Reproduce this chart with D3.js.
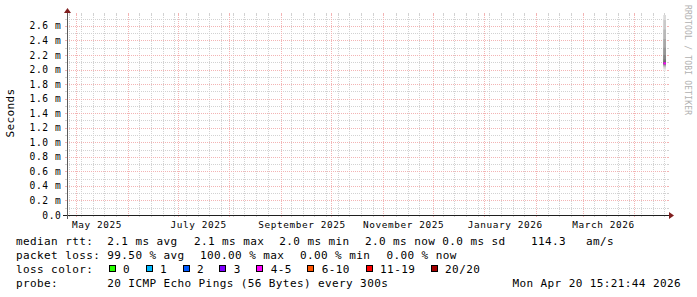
<!DOCTYPE html>
<html>
<head>
<meta charset="utf-8">
<script src="https://cdn.jsdelivr.net/npm/d3@7"></script>
<style>
  html, body { margin: 0; padding: 0; background: #ffffff; }
  svg { display: block; }
  text { font-family: "DejaVu Sans Mono", monospace; fill: #000; white-space: pre; }
</style>
</head>
<body>
<script>
// ---------------- data ----------------
const timeStart = "2025-04-25T15:21:44Z";   // now - 360 days
const timeEnd   = "2026-04-20T15:21:44Z";   // graph end (now)
const yMax = 2.75;                            // ms
const yTickValues = [0, 0.2, 0.4, 0.6, 0.8, 1.0, 1.2, 1.4, 1.6, 1.8, 2.0, 2.2, 2.4, 2.6];
const yTickLabels = ["0.0", "0.2 m", "0.4 m", "0.6 m", "0.8 m", "1.0 m", "1.2 m", "1.4 m",
                     "1.6 m", "1.8 m", "2.0 m", "2.2 m", "2.4 m", "2.6 m"];
const yMinorStep = 0.1;
const monthLabelDates = ["2025-05-01", "2025-07-01", "2025-09-01", "2025-11-01", "2026-01-01", "2026-03-01"];
const monthLabels = ["May 2025", "July 2025", "September 2025", "November 2025", "January 2026", "March 2026"];
// last (only) sample: 20 sorted ping times in ms
const sampleStart = "2026-04-18T12:00:00Z";
const sampleEnd   = "2026-04-20T00:00:00Z";
const pings = [1.98, 2.01, 2.03, 2.04, 2.05, 2.06, 2.07, 2.07, 2.08, 2.08,
               2.09, 2.11, 2.14, 2.20, 2.30, 2.42, 2.55, 2.68, 2.80, 2.95];
const medianColor = "#ff00ff";
// legend
const rttLabels = ["2.1 ms avg", "2.1 ms max", "2.0 ms min", "2.0 ms now", "0.0 ms sd", "114.3", "am/s"];
const lossLabelsText = ["99.50 % avg", "100.00 % max", "0.00 % min", "0.00 % now"];
const lossColorLabels = ["0", "1", "2", "3", "4-5", "6-10", "11-19", "20/20"];
const lossColors = ["#26ff00", "#00b8ff", "#0059ff", "#7e00ff", "#ff00ff", "#ff5500", "#ff0000", "#a10000"];
const probeText = "20 ICMP Echo Pings (56 Bytes) every 300s";
const dateText = "Mon Apr 20 15:21:44 2026";

// ---------------- layout ----------------
const W = 697, H = 297;
const X0 = 67, X1 = 667, Y0 = 215, Y1 = 15;
const gridGray = "#d2d2d2", gridPink = "#f3b4b4", arrowCol = "#801f1f";

const svg = d3.select("body").append("svg").attr("width", W).attr("height", H);
svg.append("rect").attr("width", W).attr("height", H).attr("fill", "#fff");

const x = d3.scaleUtc().domain([new Date(timeStart), new Date(timeEnd)]).range([X0, X1]);
const y = d3.scaleLinear().domain([0, yMax]).range([Y0, Y1]);

const grid = svg.append("g").attr("shape-rendering", "crispEdges");

// minor horizontal grid
const minorY = d3.range(yMinorStep, yMax, yMinorStep)
  .filter(v => !yTickValues.some(t => Math.abs(t - v) < 1e-6));
minorY.forEach(v => {
  const yy = Math.round(y(v)) + 0.5;
  grid.append("line").attr("x1", X0).attr("x2", X1).attr("y1", yy).attr("y2", yy)
    .attr("stroke", gridGray).attr("stroke-dasharray", "1,1");
  grid.append("line").attr("x1", X0 - 2).attr("x2", X0).attr("y1", yy).attr("y2", yy).attr("stroke", gridGray);
  grid.append("line").attr("x1", X1).attr("x2", X1 + 2).attr("y1", yy).attr("y2", yy).attr("stroke", gridGray);
});
// minor vertical grid (weeks)
const months = d3.utcMonth.range(x.domain()[0], x.domain()[1]);
d3.utcSunday.range(x.domain()[0], x.domain()[1]).forEach(d => {
  const xx = Math.round(x(d)) + 0.5;
  if (months.some(m => Math.abs(x(m) - x(d)) < 3)) return;
  grid.append("line").attr("x1", xx).attr("x2", xx).attr("y1", Y1).attr("y2", Y0)
    .attr("stroke", gridGray).attr("stroke-dasharray", "1,1");
  grid.append("line").attr("x1", xx).attr("x2", xx).attr("y1", Y0).attr("y2", Y0 + 2).attr("stroke", gridGray);
  grid.append("line").attr("x1", xx).attr("x2", xx).attr("y1", Y1 - 2).attr("y2", Y1).attr("stroke", gridGray);
});
// major horizontal grid
yTickValues.filter(v => v > 0).forEach(v => {
  const yy = Math.round(y(v)) + 0.5;
  grid.append("line").attr("x1", X0).attr("x2", X1).attr("y1", yy).attr("y2", yy)
    .attr("stroke", gridPink).attr("stroke-dasharray", "1,1");
  grid.append("line").attr("x1", X0 - 2).attr("x2", X0).attr("y1", yy).attr("y2", yy).attr("stroke", gridPink);
  grid.append("line").attr("x1", X1).attr("x2", X1 + 2).attr("y1", yy).attr("y2", yy).attr("stroke", gridPink);
});
// major vertical grid (months)
months.forEach(d => {
  const xx = Math.round(x(d)) + 0.5;
  grid.append("line").attr("x1", xx).attr("x2", xx).attr("y1", Y1).attr("y2", Y0)
    .attr("stroke", gridPink).attr("stroke-dasharray", "1,1");
  grid.append("line").attr("x1", xx).attr("x2", xx).attr("y1", Y0).attr("y2", Y0 + 2).attr("stroke", gridPink);
  grid.append("line").attr("x1", xx).attr("x2", xx).attr("y1", Y1 - 2).attr("y2", Y1).attr("stroke", gridPink);
});

// ---------------- smoke + median ----------------
const clipId = "plotclip";
svg.append("clipPath").attr("id", clipId).append("rect")
  .attr("x", X0).attr("y", Y1).attr("width", X1 - X0).attr("height", Y0 - Y1);
const plot = svg.append("g").attr("clip-path", `url(#${clipId})`);
const n = pings.length, half = n / 2;
const xs0 = x(new Date(sampleStart)), xs1 = x(new Date(sampleEnd));
for (let i = 0; i < half; i++) {
  const c = Math.round(170 / half * (half - i - 1)) + 70 + 12;
  const col = d3.rgb(c, c, c);
  plot.append("rect")
    .attr("x", xs0).attr("width", xs1 - xs0)
    .attr("y", y(pings[n - 1 - i])).attr("height", y(pings[i]) - y(pings[n - 1 - i]))
    .attr("fill", col);
}
const median = d3.median(pings);
plot.append("line").attr("x1", xs0).attr("x2", xs1).attr("y1", y(median)).attr("y2", y(median))
  .attr("stroke", medianColor).attr("stroke-width", 2);

// ---------------- axes ----------------
svg.append("line").attr("x1", X0 - 4).attr("x2", X1 + 4).attr("y1", Y0 + 0.5).attr("y2", Y0 + 0.5)
  .attr("stroke", "#1f1f1f").attr("shape-rendering", "crispEdges");
svg.append("line").attr("x1", X0 + 0.5).attr("x2", X0 + 0.5).attr("y1", Y0 + 4).attr("y2", Y1 - 4)
  .attr("stroke", "#5a5a5a").attr("shape-rendering", "crispEdges");
svg.append("path").attr("fill", arrowCol)
  .attr("d", `M${X1 + 2},${Y0 - 3} L${X1 + 2},${Y0 + 4} L${X1 + 7},${Y0 + 0.5} Z`);
svg.append("path").attr("fill", arrowCol)
  .attr("d", `M${X0 - 3},${Y1 - 2} L${X0 + 4},${Y1 - 2} L${X0 + 0.5},${Y1 - 7} Z`);

// y tick labels
svg.append("g").selectAll("text").data(yTickValues).join("text")
  .attr("x", 61.4).attr("y", d => y(d) + 3.5)
  .attr("text-anchor", "end")
  .style("font-size", "9.6px").style("letter-spacing", "0.6px")
  .text((d, i) => yTickLabels[i]);

// x labels: centered at month start + 15 days (rrdtool precision/2)
svg.append("g").selectAll("text").data(monthLabelDates).join("text")
  .attr("x", d => x(d3.utcDay.offset(new Date(d + "T00:00:00Z"), 15)) - 4)
  .attr("y", 228)
  .attr("text-anchor", "middle")
  .style("font-size", "9.4px").style("letter-spacing", "0.6px")
  .text((d, i) => monthLabels[i]);

// y title
svg.append("text").attr("transform", "translate(14,113) rotate(-90)")
  .attr("text-anchor", "middle")
  .style("font-size", "11px").style("letter-spacing", "0.4px")
  .text("Seconds");

// watermark
svg.append("text").attr("transform", "translate(685,5) rotate(90)")
  .style("font-size", "8px").style("letter-spacing", "0.2px").style("fill", "#b0b0b0")
  .text("RRDTOOL / TOBI OETIKER");

// ---------------- legend ----------------
const legend = svg.append("g").style("font-size", "11px").style("letter-spacing", "0.4px");
const rows = [245, 259, 273, 287];
legend.append("text").attr("x", 16).attr("y", rows[0]).text("median rtt:");
const rttX = [107.3, 194, 279.3, 365, 442.3, 531, 586];
legend.selectAll(".rtt").data(rttLabels).join("text").attr("class", "rtt")
  .attr("x", (d, i) => rttX[i]).attr("y", rows[0]).text(d => d);

legend.append("text").attr("x", 16).attr("y", rows[1]).text("packet loss:");
const lossX = [107.3, 200, 300, 386.5];
legend.selectAll(".pl").data(lossLabelsText).join("text").attr("class", "pl")
  .attr("x", (d, i) => lossX[i]).attr("y", rows[1]).text(d => d);

legend.append("text").attr("x", 16).attr("y", rows[2]).text("loss color:");
const boxX = [108.7, 145.7, 182.7, 219.3, 256.3, 307.3, 365.7, 430.7];
legend.selectAll(".lb").data(lossColors).join("rect").attr("class", "lb")
  .attr("x", (d, i) => Math.round(boxX[i]) + 0.5).attr("y", rows[2] - 7.5)
  .attr("width", 6).attr("height", 6)
  .attr("fill", d => d).attr("stroke", "#000").attr("stroke-width", 1);
legend.selectAll(".lt").data(lossColorLabels).join("text").attr("class", "lt")
  .attr("x", (d, i) => boxX[i] + 14.4).attr("y", rows[2]).text(d => d);

legend.append("text").attr("x", 16).attr("y", rows[3]).text("probe:");
legend.append("text").attr("x", 107.3).attr("y", rows[3]).text(probeText);
legend.append("text").attr("x", 681).attr("y", rows[3]).attr("text-anchor", "end").text(dateText);
</script>
</body>
</html>
